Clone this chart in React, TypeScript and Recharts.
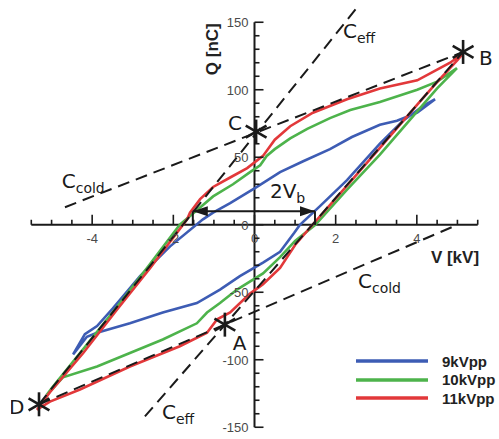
import { ComposedChart, Line, Scatter, XAxis, YAxis, ReferenceLine, Legend } from 'recharts'

// Q-V loops, [V kV, Q nC], traced around each loop
const loop9 = [
  [4.45, 93], [4.01, 83], [3.51, 77], [3.09, 74], [2.4, 65], [1.86, 56], [1.2, 47], [0.63, 39],
  [0.06, 28], [-0.6, 16], [-1.02, 9], [-1.27, 4], [-2.08, -16], [-2.82, -38], [-3.49, -62],
  [-3.88, -75], [-4.18, -81], [-4.47, -96], [-4.13, -83], [-3.88, -80], [-3.07, -73], [-2.26, -65],
  [-1.42, -58], [-0.85, -48], [-0.36, -38], [0.21, -28], [0.63, -20], [0.98, -6], [1.12, 0],
  [1.62, 14], [2.28, 33], [3.09, 60], [3.66, 77], [4.16, 88], [4.45, 93],
]
const loop10 = [
  [4.99, 116], [4.5, 106], [4.01, 100], [3.09, 91], [2.36, 85], [1.86, 79], [1.3, 71], [0.88, 64],
  [0.5, 56], [0.3, 51], [0.14, 44], [-0.11, 39], [-0.53, 30], [-1.02, 21], [-1.45, 10], [-1.84, 0],
  [-2.57, -29], [-3.39, -61], [-4.22, -92], [-4.97, -120], [-5.12, -126], [-4.72, -113],
  [-3.88, -105], [-3.07, -95], [-2.26, -85], [-1.42, -73], [-1.17, -65], [-0.85, -58], [-0.43, -48],
  [0.21, -36], [0.63, -24], [1.0, -12], [1.5, 0], [2.28, 26], [3.09, 52], [4.01, 84], [4.5, 101],
  [4.99, 116],
]
const loop11 = [
  [5.14, 127], [4.82, 120], [4.01, 107], [3.09, 101], [2.28, 93], [1.44, 83], [0.88, 73], [0.5, 63],
  [0.21, 51], [-0.18, 42], [-0.6, 35], [-1.02, 28], [-1.34, 19], [-1.59, 9], [-1.66, 4],
  [-2.57, -32], [-3.39, -63], [-4.22, -95], [-5.04, -124], [-5.36, -137], [-5.04, -131],
  [-4.3, -122], [-3.07, -105], [-1.84, -90], [-1.17, -80], [-0.92, -70], [-0.6, -65], [-0.11, -51],
  [0.21, -44], [0.63, -32], [1.0, -15], [1.43, 0], [2.28, 29], [3.09, 57], [4.01, 89], [4.51, 106],
  [5.0, 122], [5.14, 127],
]
const seriesNames = ['9kVpp', '10kVpp', '11kVpp']
const seriesColors = ['#3d5cb4', '#4db34b', '#e2383a']

// dashed capacitance lines
const coldUpper = [[-4.67, 13], [5.14, 128]]
const coldLower = [[-5.31, -133], [5.0, 0]]
const effUpper = [[-5.31, -133], [2.53, 161]]
const effLower = [[-2.7, -142], [5.14, 128]]

const corners = [
  { name: 'A', v: -0.73, q: -74 },
  { name: 'B', v: 5.14, q: 128 },
  { name: 'C', v: 0.04, q: 69 },
  { name: 'D', v: -5.31, q: -133 },
]
const lineLabels = [
  { main: 'C', sub: 'eff', v: 2.18, q: 138 },
  { main: 'C', sub: 'cold', v: -4.75, q: 27 },
  { main: 'C', sub: 'cold', v: 2.55, q: -47 },
  { main: 'C', sub: 'eff', v: -2.28, q: -144 },
  { main: '2V', sub: 'b', v: 0.38, q: 20 },
]
const vbEnds = [-1.52, 1.49]
const vbLevel = 10

const xMajor = [-4, -2, 0, 2, 4]
const xMinor = [-5.5, -5, -4.5, -3.5, -3, -2.5, -1.5, -1, -0.5, 0.5, 1, 1.5, 2.5, 3, 3.5, 4.5, 5, 5.5]
const yMajor = [-150, -100, -50, 0, 50, 100, 150]
const yMinor = [-140, -130, -120, -110, -90, -80, -70, -60, -40, -30, -20, -10, 10, 20, 30, 40, 60, 70, 80, 90, 110, 120, 130, 140]

const pts = (a: number[][]) => a.map(([v, q]) => ({ v, q }))
const ink = '#1a1a1a'
const tickFont = { fontFamily: 'Liberation Sans, Arial, sans-serif', fontSize: 13, fill: '#4a4a4a' }
const annFont = 'DejaVu Sans, sans-serif'

const xTicks = [...xMajor.map(v => ({ v, q: 0, major: true })), ...xMinor.map(v => ({ v, q: 0, major: false }))]
const yTicks = [...yMajor.map(q => ({ v: 0, q, major: true })), ...yMinor.map(q => ({ v: 0, q, major: false }))]

const XTickShape = (p: any) => {
  const { cx, cy, payload } = p
  return (
    <g>
      <line x1={cx} x2={cx} y1={cy} y2={cy - (payload.major ? 10 : 5)} stroke={ink} strokeWidth={1.6} />
      {payload.major && (
        <text x={cx} y={cy + 18} textAnchor="middle" {...tickFont}>{payload.v}</text>
      )}
    </g>
  )
}

const YTickShape = (p: any) => {
  const { cx, cy, payload } = p
  return (
    <g>
      <line x1={cx} x2={cx + (payload.major ? 9 : 5)} y1={cy} y2={cy} stroke={ink} strokeWidth={1.6} />
      {payload.major && (
        <text x={cx - 6} y={cy + 5} textAnchor="end" {...tickFont}>{payload.q}</text>
      )}
    </g>
  )
}

const labelOffset: Record<string, [number, number]> = { A: [8, 25], B: [16, 13], C: [-28, -2], D: [-30, 10] }

const StarShape = (p: any) => {
  const { cx, cy, payload } = p
  const r = 12
  const dx = r * Math.cos(Math.PI / 6)
  const dy = r * Math.sin(Math.PI / 6)
  const [ox, oy] = labelOffset[payload.name]
  return (
    <g stroke={ink} strokeWidth={2.6}>
      <line x1={cx} y1={cy - r} x2={cx} y2={cy + r} />
      <line x1={cx - dx} y1={cy - dy} x2={cx + dx} y2={cy + dy} />
      <line x1={cx - dx} y1={cy + dy} x2={cx + dx} y2={cy - dy} />
      <text x={cx + ox} y={cy + oy} stroke="none" fill={ink} fontFamily={annFont} fontSize={20}>{payload.name}</text>
    </g>
  )
}

const LabelShape = (p: any) => {
  const { cx, cy, payload } = p
  return (
    <text x={cx} y={cy} fill={ink} fontFamily={annFont} fontSize={20}>
      {payload.main}
      <tspan dy={5} fontSize={14}>{payload.sub}</tspan>
    </text>
  )
}

const ArrowShape = (p: any) => {
  const { cx, cy, payload } = p
  const d = payload.v < 0 ? 1 : -1
  return <polygon points={`${cx},${cy} ${cx + d * 15},${cy - 5} ${cx + d * 15},${cy + 5}`} fill={ink} />
}

const TitleShape = (p: any) => {
  const { cx, cy, payload } = p
  return (
    <text x={cx} y={cy} textAnchor="middle" fontFamily="Liberation Sans, Arial, sans-serif" fontWeight="bold"
      fontSize={17} fill="#222" transform={payload.rotate ? `rotate(-90 ${cx} ${cy})` : undefined}>
      {payload.text}
    </text>
  )
}
const axisTitles = [
  { text: 'V [kV]', v: 4.94, q: -28, rotate: false },
  { text: 'Q [nC]', v: -0.9, q: 130, rotate: true },
]

const LegendBox = () => (
  <div style={{ fontFamily: 'Liberation Sans, Arial, sans-serif', fontWeight: 'bold', fontSize: 15, color: '#222' }}>
    {seriesNames.map((n, i) => (
      <div key={n} style={{ display: 'flex', alignItems: 'center', height: 18.5 }}>
        <svg width={72} height={6} style={{ marginRight: 14 }}>
          <line x1={0} x2={72} y1={3} y2={3} stroke={seriesColors[i]} strokeWidth={3.5} />
        </svg>
        <span>{n}</span>
      </div>
    ))}
  </div>
)

export default function App() {
  const loops = [loop9, loop10, loop11]
  const dashed = [coldUpper, coldLower, effUpper, effLower]
  return (
    <div style={{ position: 'absolute', left: 0, top: 0, width: 499, height: 439, background: '#fff' }}>
      <ComposedChart width={499} height={439} margin={{ top: 2, right: 1, bottom: 5, left: 11 }}>
        <XAxis type="number" dataKey="v" domain={[-6, 6]} allowDataOverflow hide />
        <YAxis type="number" dataKey="q" domain={[-155, 165]} allowDataOverflow hide />
        <ReferenceLine segment={[{ x: -5.5, y: 0 }, { x: 5.5, y: 0 }]} stroke={ink} strokeWidth={2} />
        <ReferenceLine segment={[{ x: 0, y: -150 }, { x: 0, y: 150 }]} stroke={ink} strokeWidth={2} />
        <Scatter data={xTicks} shape={XTickShape} isAnimationActive={false} legendType="none" />
        <Scatter data={yTicks} shape={YTickShape} isAnimationActive={false} legendType="none" />
        {loops.map((l, i) => (
          <Line key={seriesNames[i]} name={seriesNames[i]} data={pts(l)} dataKey="q" type="linear"
            stroke={seriesColors[i]} strokeWidth={2.6} dot={false} activeDot={false} isAnimationActive={false} />
        ))}
        {dashed.map((d, i) => (
          <Line key={'d' + i} data={pts(d)} dataKey="q" type="linear" stroke={ink} strokeWidth={2}
            strokeDasharray="12 7" dot={false} activeDot={false} legendType="none" isAnimationActive={false} />
        ))}
        {vbEnds.map(v => (
          <ReferenceLine key={'vb' + v} segment={[{ x: v, y: 0 }, { x: v, y: vbLevel }]} stroke={ink} strokeWidth={2} />
        ))}
        <ReferenceLine segment={[{ x: vbEnds[0], y: vbLevel }, { x: vbEnds[1], y: vbLevel }]} stroke={ink} strokeWidth={2} />
        <Scatter data={vbEnds.map(v => ({ v, q: vbLevel }))} shape={ArrowShape} isAnimationActive={false} legendType="none" />
        <Scatter data={corners} shape={StarShape} isAnimationActive={false} legendType="none" />
        <Scatter data={lineLabels} shape={LabelShape} isAnimationActive={false} legendType="none" />
        <Scatter data={axisTitles} shape={TitleShape} isAnimationActive={false} legendType="none" />
        <Legend layout="vertical" align="center" verticalAlign="middle" content={LegendBox}
          wrapperStyle={{ left: 356, top: 352, width: 140 }} />
      </ComposedChart>
    </div>
  )
}
